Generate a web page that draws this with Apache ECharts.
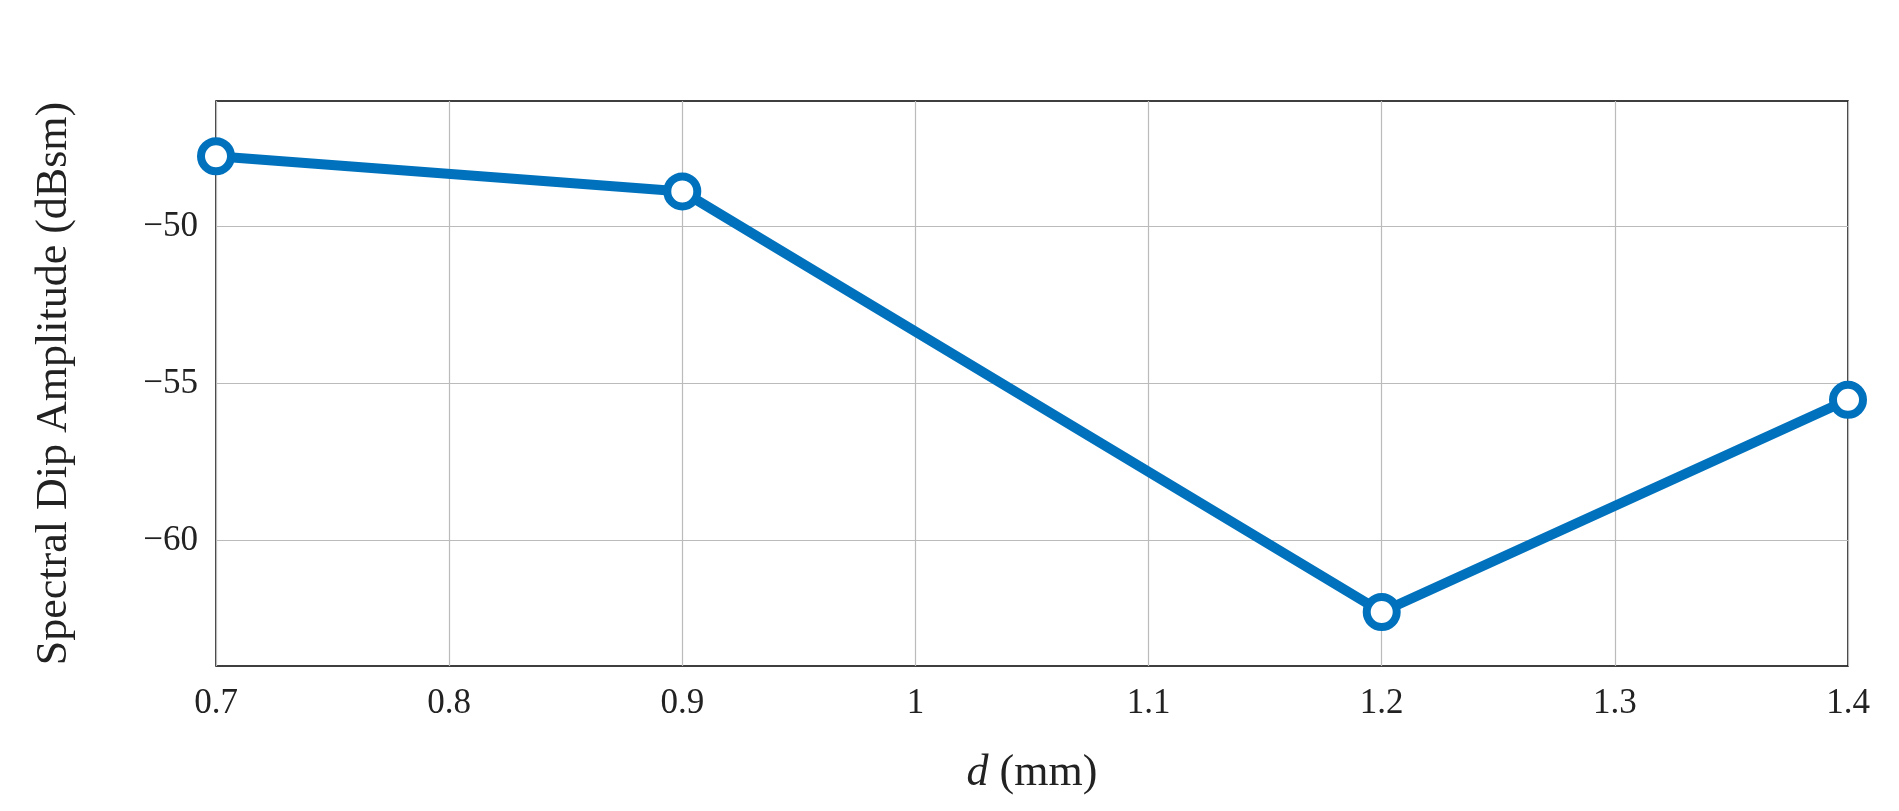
<!DOCTYPE html><html><head><meta charset="utf-8"><script src="https://cdn.jsdelivr.net/npm/echarts@6/dist/echarts.min.js"></script>
<style>html,body{margin:0;background:#fff}#c{width:1899px;height:811px}</style></head><body><div id="c"></div><script>
const xValues=[0.7,0.9,1.2,1.4];
const yValues=[-47.76,-48.88,-62.28,-55.52];
const xTicks=[0.7,0.8,0.9,1.0,1.1,1.2,1.3,1.4];
const yTicks=[-60,-55,-50];
const font='"Liberation Serif","DejaVu Serif",serif';
const grid=[];
xTicks.forEach(v=>grid.push({xAxis:v}));
yTicks.forEach(v=>grid.push({yAxis:v}));
const ch=echarts.init(document.getElementById('c'));
ch.setOption({
grid:{left:216,right:51,top:101,bottom:145,show:true,borderColor:'#000',borderWidth:1.5},
xAxis:{type:'value',min:0.7,max:1.4,name:'{i|d} (mm)',nameLocation:'middle',nameGap:85,
 nameTextStyle:{fontFamily:font,fontSize:44,color:'#222',rich:{i:{fontFamily:font,fontSize:44,fontStyle:'italic',color:'#222'}}},
 axisLine:{show:false},axisTick:{show:false},splitLine:{show:false},
 axisLabel:{customValues:xTicks,fontFamily:font,fontSize:35,color:'#222',margin:20,formatter:v=>String(+v.toFixed(1))}},
yAxis:{type:'value',min:-64,max:-46,name:'Spectral Dip Amplitude (dBsm)',nameLocation:'middle',nameGap:140,
 nameTextStyle:{fontFamily:font,fontSize:44,color:'#222'},
 axisLine:{show:false},axisTick:{show:false},splitLine:{show:false},
 axisLabel:{customValues:yTicks,fontFamily:font,fontSize:35,color:'#222',margin:18,formatter:v=>'\u2212'+Math.abs(v)}},
series:[{type:'line',data:xValues.map((x,i)=>[x,yValues[i]]),
 lineStyle:{color:'#0072BD',width:10},symbol:'circle',symbolSize:30,
 itemStyle:{color:'#fff',borderColor:'#0072BD',borderWidth:8},z:5,
 markLine:{silent:true,symbol:'none',label:{show:false},lineStyle:{color:'#bbb',width:1.2,type:'solid'},data:grid,animation:false,z:1}}],
animation:false});
</script></body></html>
